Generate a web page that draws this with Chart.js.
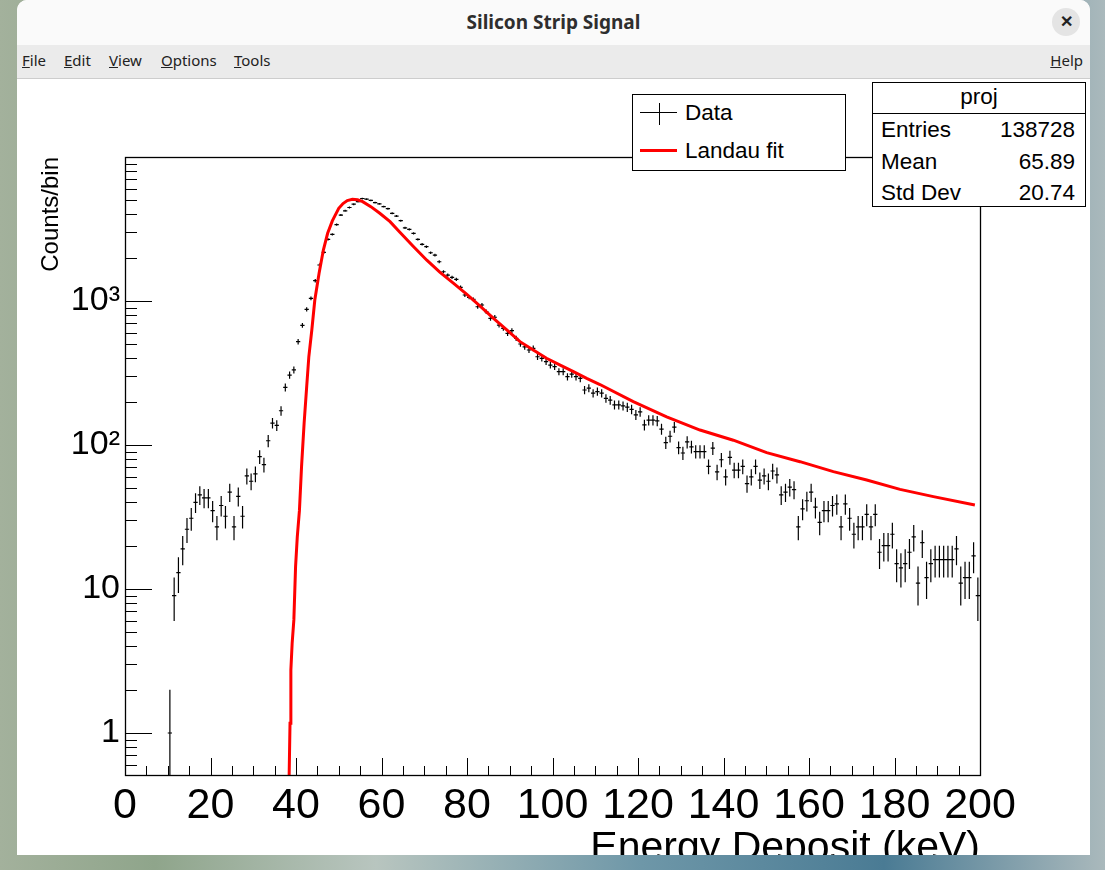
<!DOCTYPE html>
<html>
<head>
<meta charset="utf-8">
<title>Silicon Strip Signal</title>
<script src="https://cdn.jsdelivr.net/npm/chart.js@4.4.1/dist/chart.umd.min.js"></script>
<style>
  body {
    margin: 0; width: 1105px; height: 870px; overflow: hidden; position: relative;
    background: linear-gradient(90deg, #a3b19c 0%, #8fa58b 14%, #b8c5bf 34%, #6e97a8 58%, #4a7b94 80%, #aab9bc 100%);
  }
  #win {
    position: absolute; left: 17px; top: 0; width: 1073px; height: 855px;
    background: #fff; overflow: hidden; border-radius: 10px 10px 0 0;
  }
  #titlebar {
    position: absolute; left: 0; top: 0; width: 100%; height: 45px; background: #fafafa;
    font: bold 19px "Noto Sans", sans-serif; color: #2e2e2e; text-align: center; line-height: 44px;
  }
  #close {
    position: absolute; left: 1035px; top: 8px; width: 28px; height: 28px; border-radius: 50%;
    background: #e4e4e4; font: bold 16px "Noto Sans", sans-serif; line-height: 27px; text-align: center; color: #222;
  }
  #menubar {
    position: absolute; left: 0; top: 45px; width: 100%; height: 33px; background: #ebebeb;
    border-bottom: 1px solid #cdcdcd; font: 15px "Noto Sans", sans-serif; color: #222;
  }
  #menubar span { position: absolute; top: 5px; }
  #plot { position: absolute; left: 0; top: 79px; }
  .box {
    position: absolute; background: #fff; border: 1px solid #000;
    font: 22.5px "Liberation Sans", Arial, sans-serif; color: #000;
  }
  .box div { position: absolute; line-height: 26px; white-space: nowrap; }
</style>
</head>
<body>
<div id="win">
  <div id="titlebar">Silicon Strip Signal</div>
  <div id="close">&#x2715;</div>
  <div id="menubar">
    <span style="left:5px"><u>F</u>ile</span>
    <span style="left:47px"><u>E</u>dit</span>
    <span style="left:92px"><u>V</u>iew</span>
    <span style="left:144px"><u>O</u>ptions</span>
    <span style="left:217px"><u>T</u>ools</span>
    <span style="right:7px"><u>H</u>elp</span>
  </div>
  <canvas id="plot" width="1073" height="776"></canvas>

  <!-- legenda -->
  <div class="box" style="left:615px; top:94px; width:212px; height:75px;">
    <div style="left:7px; top:17px; width:37px; height:1px; background:#000;"></div>
    <div style="left:26px; top:8px; width:1px; height:22px; background:#000;"></div>
    <div style="left:52px; top:5px;">Data</div>
    <div style="left:7px; top:54px; width:37px; height:3px; background:#ff0000;"></div>
    <div style="left:52px; top:43px;">Landau fit</div>
  </div>

  <!-- caixa de estatisticas -->
  <div class="box" style="left:855px; top:82px; width:212px; height:123px;">
    <div style="left:0; top:1px; width:212px; text-align:center;">proj</div>
    <div style="left:0; top:30px; width:212px; height:1px; background:#000;"></div>
    <div style="left:8px; top:34px;">Entries</div>
    <div style="right:10px; top:34px;">138728</div>
    <div style="left:8px; top:66px;">Mean</div>
    <div style="right:10px; top:66px;">65.89</div>
    <div style="left:8px; top:97px;">Std Dev</div>
    <div style="right:10px; top:97px;">20.74</div>
  </div>
</div>

<script>
// histograma: bins de 1 keV, primeiro bin comeca em 10 keV
var binLow = 10;
var binWidth = 1;
var counts = [
  1, 9, 13, 19, 26, 31, 40, 45, 43, 43,
  35, 27, 38, 32, 47, 27, 44, 32, 61, 56,
  63, 83, 73, 107, 142, 137, 173, 251, 306, 332,
  522, 678, 875, 1043, 1383, 1778, 2178, 2680, 2904, 3388,
  3950, 4230, 4460, 4700, 4900, 5150, 5100, 5000, 4817, 4720,
  4520, 4375, 4065, 3890, 3610, 3215, 3148, 2950, 2680, 2475,
  2383, 2163, 2084, 1873, 1597, 1514, 1459, 1413, 1244, 1101,
  1060, 1027, 912, 938, 843, 758, 771, 681, 646, 596,
  622, 551, 503, 481, 457, 469, 410, 400, 379, 359,
  350, 323, 323, 298, 311, 298, 290, 241, 248, 229,
  235, 229, 211, 205, 190, 190, 187, 183, 177, 162,
  170, 138, 149, 149, 147, 129, 104, 115, 133, 96,
  88, 105, 97, 90, 90, 90, 71, 95, 65, 79,
  60, 82, 67, 67, 71, 54, 60, 71, 57, 61,
  56, 66, 62, 45, 47, 51, 49, 27, 36, 41,
  47, 37, 29, 35, 35, 38, 39, 27, 39, 31,
  24, 27, 27, 33, 27, 33, 18, 20, 20, 24,
  15, 14, 15, 18, 23, 11, 21, 12, 15, 16,
  16, 16, 16, 16, 19, 11, 12, 12, 17, 9
];

// curva do ajuste Landau
var fitX = [38.4, 38.6, 38.8, 39.1, 39.5, 39.9, 40.3, 40.8, 41.3, 41.9, 42.5, 43.0, 43.7, 44.4, 45.4,
  46.4, 47.4, 48.5, 50.0, 51.0, 52.0, 53.2, 54.4, 55.6, 57.5, 59.6, 62.0, 64.3, 67.4, 70.6, 73.7,
  76.8, 79.9, 83.0, 86.2, 89.3, 92.4, 95.5, 98.6, 101.8, 104.9, 108.0, 111.1, 118.9, 126.7, 134.5,
  142.3, 150.1, 157.9, 165.7, 173.5, 181.3, 189.1, 198.8];
var fitY = [0.51, 1.17, 2.74, 4.2, 6.1, 14.3, 23, 35, 71, 142, 254, 410, 629, 1016, 1556,
  2260, 2951, 3600, 4400, 4750, 4980, 5090, 5050, 4900, 4520, 4065, 3555, 3000, 2400, 1920, 1580,
  1330, 1115, 925, 758, 629, 522, 457, 400, 359, 323, 290, 263, 200, 157, 127,
  108, 88.5, 76.6, 65.3, 57.1, 49.2, 43.8, 38.3];

var xTickValues = [0, 20, 40, 60, 80, 100, 120, 140, 160, 180, 200];
var yTickValues = [1, 10, 100, 1000];
var yTickLabels = ['1', '10', '10\u00b2', '10\u00b3'];

var fontFam = '"Liberation Sans", Arial, sans-serif';

// barras de erro sqrt(N) e moldura com ticks para dentro, estilo ROOT
var rootStyle = {
  id: 'rootStyle',
  beforeDatasetsDraw: function (chart) {
    var ctx = chart.ctx, xs = chart.scales.x, ys = chart.scales.y, a = chart.chartArea;
    ctx.save();
    ctx.beginPath();
    ctx.rect(a.left, a.top, a.right - a.left, a.bottom - a.top);
    ctx.clip();
    ctx.strokeStyle = '#000';
    ctx.lineWidth = 1.2;
    ctx.beginPath();
    counts.forEach(function (n, i) {
      if (n <= 0) return;
      var c = binLow + binWidth * (i + 0.5);
      var px = xs.getPixelForValue(c);
      var py = ys.getPixelForValue(n);
      var e = Math.sqrt(n);
      var lo = (n - e) > ys.min ? ys.getPixelForValue(n - e) : a.bottom;
      var hi = ys.getPixelForValue(n + e);
      ctx.moveTo(px, hi);
      ctx.lineTo(px, lo);
      ctx.moveTo(xs.getPixelForValue(c - binWidth / 2), py);
      ctx.lineTo(xs.getPixelForValue(c + binWidth / 2), py);
    });
    ctx.stroke();
    ctx.restore();
  },
  afterDatasetsDraw: function (chart) {
    var ctx = chart.ctx, xs = chart.scales.x, ys = chart.scales.y, a = chart.chartArea;
    ctx.save();
    ctx.strokeStyle = '#000';
    ctx.lineWidth = 1;
    ctx.beginPath();
    // ticks eixo x
    for (var v = 0; v <= 200; v += 5) {
      var px = Math.round(xs.getPixelForValue(v)) + 0.5;
      var len = (v % 20 === 0) ? 17 : 9;
      ctx.moveTo(px, a.bottom);
      ctx.lineTo(px, a.bottom - len);
    }
    // ticks eixo y (log)
    for (var d = 0.1; d <= 1000; d *= 10) {
      for (var k = 1; k <= 10; k++) {
        var val = d * k;
        if (val < ys.min || val > ys.max) continue;
        var py = Math.round(ys.getPixelForValue(val)) + 0.5;
        var l = (k === 1 || k === 10) ? 27 : 12;
        ctx.moveTo(a.left, py);
        ctx.lineTo(a.left + l, py);
      }
    }
    ctx.stroke();
    ctx.lineWidth = 1.3;
    ctx.strokeRect(Math.round(a.left) + 0.5, Math.round(a.top) + 0.5,
      Math.round(a.right - a.left), Math.round(a.bottom - a.top));
    ctx.restore();
  }
};

var ctx = document.getElementById('plot').getContext('2d');
var myChart = new Chart(ctx, {
  type: 'scatter',
  data: {
    datasets: [{
      label: 'Data',
      data: counts.map(function (n, i) { return { x: binLow + binWidth * (i + 0.5), y: n }; }),
      pointRadius: 0,
      showLine: false,
      borderColor: '#000',
      backgroundColor: '#000'
    },
    {
      label: 'Landau fit',
      data: fitX.map(function (x, i) { return { x: x, y: fitY[i] }; }),
      showLine: true,
      pointRadius: 0,
      borderColor: '#ff0000',
      backgroundColor: '#ff0000',
      borderWidth: 3,
      tension: 0,
      clip: 0
    }]
  },
  options: {
    responsive: false,
    animation: false,
    devicePixelRatio: 1,
    layout: { padding: { left: 0, top: 78, right: 110, bottom: 0 } },
    plugins: {
      legend: { display: false },
      tooltip: { enabled: false }
    },
    scales: {
      x: {
        type: 'linear',
        min: 0,
        max: 200,
        grid: { display: false, drawTicks: false },
        border: { display: false },
        afterBuildTicks: function (s) { s.ticks = xTickValues.map(function (v) { return { value: v }; }); },
        afterFit: function (s) { s.height = 80; },
        ticks: {
          autoSkip: false, maxRotation: 0, minRotation: 0, padding: 5, color: '#000',
          font: { family: fontFam, size: 43 },
          callback: function (v, i) { return String(xTickValues[i]); }
        },
        title: {
          display: true, text: 'Energy Deposit (keV)', align: 'end', color: '#000', padding: 0,
          font: { family: fontFam, size: 41, lineHeight: 0.3 }
        }
      },
      y: {
        type: 'logarithmic',
        min: 0.511,
        max: 10000,
        grid: { display: false, drawTicks: false },
        border: { display: false },
        afterBuildTicks: function (s) { s.ticks = yTickValues.map(function (v) { return { value: v }; }); },
        afterFit: function (s) { s.width = 108; },
        ticks: {
          autoSkip: false, padding: 5, color: '#000',
          font: { family: fontFam, size: 34 },
          callback: function (v, i) { return yTickLabels[i]; }
        },
        title: {
          display: true, text: 'Counts/bin', align: 'end', color: '#000',
          padding: { top: 20, bottom: 0 },
          font: { family: fontFam, size: 24 }
        }
      }
    }
  },
  plugins: [rootStyle]
});
</script>
</body>
</html>
